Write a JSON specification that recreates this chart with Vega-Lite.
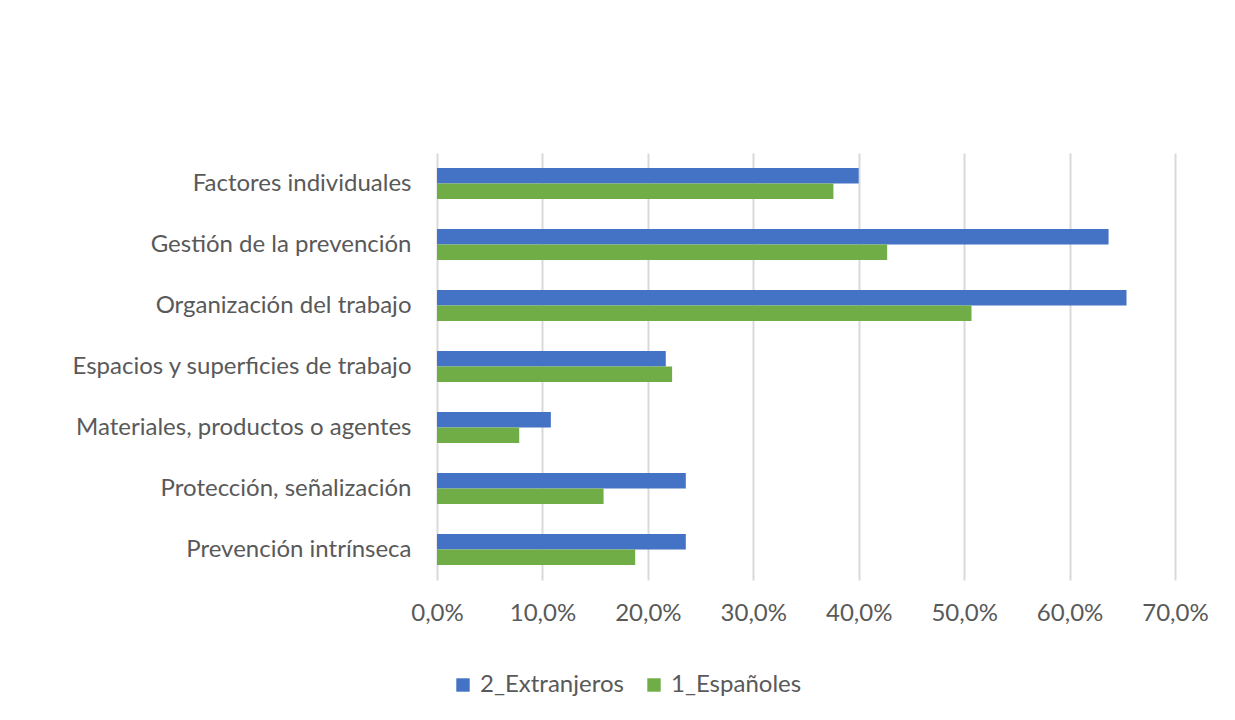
{
  "$schema": "https://vega.github.io/schema/vega-lite/v6.json",
  "width": 738,
  "height": 427,
  "autosize": {"type": "none"},
  "padding": {"left": 437, "top": 153, "right": 60, "bottom": 140},
  "background": "white",
  "config": {
    "locale": {"number": {"decimal": ",", "thousands": ".", "grouping": [3], "currency": ["", " €"]}},
    "view": {"stroke": null},
    "font": "Lato"
  },
  "data": {
    "values": [
      {"categoria": "Factores individuales", "grupo": "2_Extranjeros", "valor": 0.400},
      {"categoria": "Factores individuales", "grupo": "1_Españoles", "valor": 0.376},
      {"categoria": "Gestión de la prevención", "grupo": "2_Extranjeros", "valor": 0.637},
      {"categoria": "Gestión de la prevención", "grupo": "1_Españoles", "valor": 0.427},
      {"categoria": "Organización del trabajo", "grupo": "2_Extranjeros", "valor": 0.654},
      {"categoria": "Organización del trabajo", "grupo": "1_Españoles", "valor": 0.507},
      {"categoria": "Espacios y superficies de trabajo", "grupo": "2_Extranjeros", "valor": 0.217},
      {"categoria": "Espacios y superficies de trabajo", "grupo": "1_Españoles", "valor": 0.223},
      {"categoria": "Materiales, productos o agentes", "grupo": "2_Extranjeros", "valor": 0.108},
      {"categoria": "Materiales, productos o agentes", "grupo": "1_Españoles", "valor": 0.078},
      {"categoria": "Protección, señalización", "grupo": "2_Extranjeros", "valor": 0.236},
      {"categoria": "Protección, señalización", "grupo": "1_Españoles", "valor": 0.158},
      {"categoria": "Prevención intrínseca", "grupo": "2_Extranjeros", "valor": 0.236},
      {"categoria": "Prevención intrínseca", "grupo": "1_Españoles", "valor": 0.188}
    ]
  },
  "mark": {"type": "bar"},
  "encoding": {
    "y": {
      "field": "categoria",
      "type": "nominal",
      "sort": ["Factores individuales", "Gestión de la prevención", "Organización del trabajo", "Espacios y superficies de trabajo", "Materiales, productos o agentes", "Protección, señalización", "Prevención intrínseca"],
      "scale": {"paddingInner": 0.49, "paddingOuter": 0.245},
      "axis": {"title": null, "domain": false, "ticks": false, "labelPadding": 26, "labelFontSize": 24, "labelColor": "#595959", "labelLimit": 430}
    },
    "yOffset": {
      "field": "grupo",
      "type": "nominal",
      "sort": ["2_Extranjeros", "1_Españoles"]
    },
    "x": {
      "field": "valor",
      "type": "quantitative",
      "scale": {"domain": [0, 0.7], "nice": false},
      "axis": {"title": null, "format": ".1%", "values": [0, 0.1, 0.2, 0.3, 0.4, 0.5, 0.6, 0.7], "domain": false, "ticks": false, "labelPadding": 21, "labelFontSize": 24, "labelColor": "#595959", "gridColor": "#D9D9D9", "gridWidth": 2, "labelFlush": false}
    },
    "color": {
      "field": "grupo",
      "type": "nominal",
      "sort": ["2_Extranjeros", "1_Españoles"],
      "scale": {"domain": ["2_Extranjeros", "1_Españoles"], "range": ["#4472C4", "#70AD47"]},
      "legend": {"title": null, "orient": "none", "direction": "horizontal", "legendX": 14, "legendY": 520, "symbolType": "square", "symbolSize": 180, "symbolStrokeWidth": 0, "labelFontSize": 24, "labelColor": "#595959", "columnPadding": 18, "labelOffset": 5}
    }
  }
}
